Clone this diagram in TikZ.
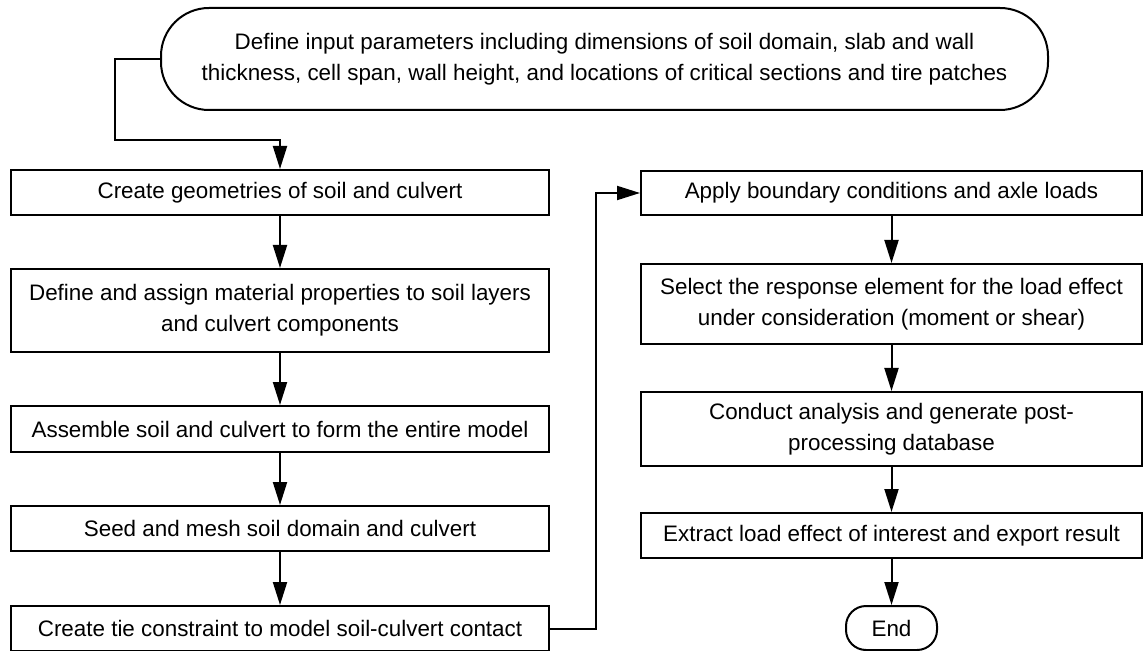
\documentclass[tikz,border=0pt]{standalone}
\usepackage{fontspec}
\setmainfont{Liberation Sans}
\usetikzlibrary{arrows.meta}

\begin{document}
\begin{tikzpicture}[x=0.5pt,y=-0.5pt,
  box/.style={rectangle,draw=black,line width=1pt,fill=white,
    font=\fontsize{11.2}{15.5}\selectfont,align=center,inner sep=0pt},
  lbox/.style={box,minimum width=269pt},
  rbox/.style={box,minimum width=250.5pt},
  term/.style={box,rounded corners=24pt},
  flow/.style={-{Triangle[length=11.5pt,width=7pt]},line width=1pt}
]
\useasboundingbox (0,0) rectangle (1143,651);

% Start
\node[term,minimum width=443.5pt,minimum height=51pt] (input) at (604.5,59)
  {Define input parameters including dimensions of soil domain, slab and wall\\
   thickness, cell span, wall height, and locations of critical sections and tire patches};

% Left column: building the model
\node[lbox,minimum height=22.5pt] (geom) at (280,192.5) {Create geometries of soil and culvert};
\node[lbox,minimum height=41.5pt] (mat) at (280,310.5) {Define and assign material properties to soil layers\\and culvert components};
\node[lbox,minimum height=23pt] (asm) at (280,429) {Assemble soil and culvert to form the entire model};
\node[lbox,minimum height=22.5pt] (mesh) at (280,528.5) {Seed and mesh soil domain and culvert};
\node[lbox,minimum height=22.5pt] (tie) at (280,628.5) {Create tie constraint to model soil-culvert contact};

% Right column: loading and results
\node[rbox,minimum height=22pt] (bc) at (891.5,193) {Apply boundary conditions and axle loads};
\node[rbox,minimum height=40pt] (resp) at (891.5,304) {Select the response element for the load effect\\under consideration (moment or shear)};
\node[rbox,minimum height=37pt] (run) at (891.5,429) {Conduct analysis and generate post-\\processing database};
\node[rbox,minimum height=22.5pt] (extr) at (891.5,535.5) {Extract load effect of interest and export result};
\node[term,rounded corners=10pt,minimum width=45.5pt,minimum height=22pt] (end) at (891.5,628) {End};

% Arrows
\coordinate (bend) at (115,140);
\draw[flow] (input.west) -| (bend) -| (geom.north);
\foreach \a/\b in {geom/mat,mat/asm,asm/mesh,mesh/tie,bc/resp,resp/run,run/extr,extr/end}
  \draw[flow] (\a) -- (\b);
\draw[flow] (tie.east) -- ++(46,0) |- (bc.west);

\end{tikzpicture}
\end{document}
